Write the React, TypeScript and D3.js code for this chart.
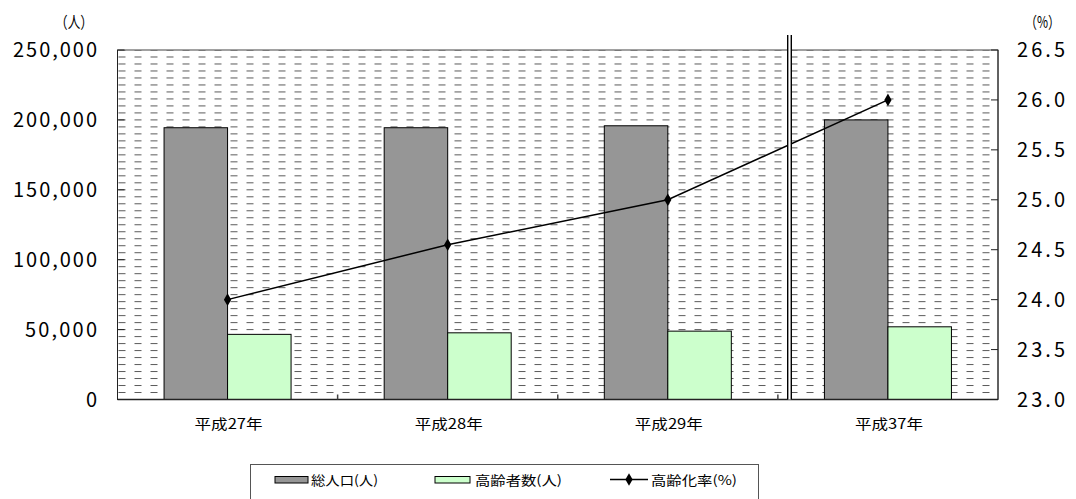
import React from "react";
import * as d3 from "d3";

// 年度
const categories = ["平成27年", "平成28年", "平成29年", "平成37年"];
// 総人口（人）
const totalPopulation = [194400, 194400, 195800, 200000];
// 高齢者数（人）
const elderlyPopulation = [46600, 47700, 48900, 52000];
// 高齢化率（%）
const agingRate = [24.0, 24.55, 25.0, 26.0];

const leftTicks = [0, 50000, 100000, 150000, 200000, 250000];
const rightTicks = [23.0, 23.5, 24.0, 24.5, 25.0, 25.5, 26.0, 26.5];

const legendItems = ["総人口(人)", "高齢者数(人)", "高齢化率(%)"];

const W = 1076;
const H = 499;
const plot = { left: 117.5, right: 998, top: 50, bottom: 399.5 };
const FONT = "'Noto Sans CJK JP', 'Noto Sans', sans-serif";

const fmt = (v: number) => (v === 0 ? "0" : d3.format(",")(v));

export default function App() {
  const x = d3
    .scaleBand<string>()
    .domain(categories)
    .range([plot.left, plot.right])
    .paddingInner(0)
    .paddingOuter(0);
  const yL = d3.scaleLinear().domain([0, 250000]).range([plot.bottom, plot.top]);
  const yR = d3.scaleLinear().domain([23, 26.5]).range([plot.bottom, plot.top]);

  const bw = x.bandwidth() * 0.2885;
  const cx = (c: string) => (x(c) as number) + x.bandwidth() / 2;

  const line = d3
    .line<number>()
    .x((_, i) => cx(categories[i]))
    .y((d) => yR(d));

  const diamond = d3.symbol().type(d3.symbolDiamond).size(46)();

  // the break between the actual years and the projection
  const breakX = 787.7;
  const rowH = (plot.bottom - plot.top) / 50;

  return (
    <svg
      width={W}
      height={H}
      style={{ position: "absolute", left: 0, top: 0, background: "#fff" }}
      fontFamily={FONT}
    >
      <defs>
        <pattern
          id="dashBg"
          patternUnits="userSpaceOnUse"
          x={plot.left + 1}
          y={plot.top - 0.5}
          width={16}
          height={rowH}
        >
          <rect x={0} y={0} width={7} height={1} fill="#5a5a5a" />
        </pattern>
      </defs>

      {/* plot area */}
      <rect
        x={plot.left}
        y={plot.top}
        width={plot.right - plot.left}
        height={plot.bottom - plot.top}
        fill="url(#dashBg)"
      />
      <rect
        x={plot.left}
        y={plot.top}
        width={plot.right - plot.left}
        height={plot.bottom - plot.top}
        fill="none"
        stroke="#444"
        strokeWidth={1}
      />

      {/* bars */}
      {categories.map((c, i) => (
        <g key={c}>
          <rect
            x={cx(c) - bw}
            y={yL(totalPopulation[i])}
            width={bw}
            height={plot.bottom - yL(totalPopulation[i])}
            fill="#969696"
            stroke="#000"
            strokeWidth={1}
          />
          <rect
            x={cx(c)}
            y={yL(elderlyPopulation[i])}
            width={bw}
            height={plot.bottom - yL(elderlyPopulation[i])}
            fill="#ccffcc"
            stroke="#000"
            strokeWidth={1}
          />
        </g>
      ))}

      {/* axes */}
      <line x1={plot.left} x2={plot.left} y1={plot.top} y2={plot.bottom} stroke="#222" />
      <line x1={plot.right} x2={plot.right} y1={plot.top} y2={plot.bottom} stroke="#222" />
      <line x1={plot.left} x2={plot.right} y1={plot.bottom} y2={plot.bottom} stroke="#222" strokeWidth={1.3} />
      {leftTicks.map((t) => (
        <line key={"lt" + t} x1={plot.left} x2={plot.left + 7} y1={yL(t)} y2={yL(t)} stroke="#222" />
      ))}
      {rightTicks.map((t) => (
        <line key={"rt" + t} x1={plot.right - 7} x2={plot.right} y1={yR(t)} y2={yR(t)} stroke="#222" />
      ))}
      {categories.slice(1).map((c) => (
        <line
          key={"xt" + c}
          x1={x(c) as number}
          x2={x(c) as number}
          y1={plot.bottom}
          y2={plot.bottom - 5}
          stroke="#444"
          strokeWidth={1.5}
        />
      ))}

      {/* aging rate line */}
      <path d={line(agingRate) || ""} fill="none" stroke="#000" strokeWidth={1.5} />
      {agingRate.map((v, i) => (
        <path
          key={"m" + i}
          d={diamond || ""}
          transform={`translate(${cx(categories[i])},${yR(v)})`}
          fill="#000"
        />
      ))}

      {/* double break line */}
      <rect x={breakX} y={35} width={3.6} height={plot.bottom - 35} fill="#fff" />
      <line x1={breakX} x2={breakX} y1={35} y2={plot.bottom} stroke="#000" strokeWidth={1.4} />
      <line x1={breakX + 3.6} x2={breakX + 3.6} y1={35} y2={plot.bottom} stroke="#000" strokeWidth={1.4} />

      {/* left tick labels */}
      {leftTicks.map((t) => {
        const s = fmt(t);
        return (
          <text
            key={"ll" + t}
            x={97}
            y={yL(t)}
            dy="0.36em"
            textAnchor="end"
            fontSize={20}
            textLength={s.length * 12}
            lengthAdjust="spacing"
            fill="#000"
          >
            {s}
          </text>
        );
      })}
      {/* right tick labels */}
      {rightTicks.map((t) => {
        const s = t.toFixed(1);
        return (
          <text
            key={"rl" + t}
            x={1017}
            y={yR(t)}
            dy="0.36em"
            fontSize={20}
            textLength={s.length * 12}
            lengthAdjust="spacing"
            fill="#000"
          >
            {s}
          </text>
        );
      })}

      {/* unit labels */}
      <text x={55} y={28} fontSize={16} textLength={38} lengthAdjust="spacingAndGlyphs">
        （人）
      </text>
      <text x={1025} y={28} fontSize={16} textLength={35} lengthAdjust="spacingAndGlyphs">
        （%）
      </text>

      {/* category labels */}
      {categories.map((c) => (
        <text
          key={"xl" + c}
          x={cx(c) + 1}
          y={429}
          textAnchor="middle"
          fontSize={14}
          textLength={68}
          lengthAdjust="spacingAndGlyphs"
        >
          {c}
        </text>
      ))}

      {/* legend */}
      <rect x={250.5} y={464.5} width={508} height={60} fill="#fff" stroke="#555" />
      <rect x={275} y={476.5} width={33} height={6.5} fill="#969696" stroke="#000" />
      <text x={311} y={485} fontSize={13} textLength={67} lengthAdjust="spacingAndGlyphs">
        {legendItems[0]}
      </text>
      <rect x={435} y={476.5} width={35} height={6.5} fill="#ccffcc" stroke="#000" />
      <text x={475} y={485} fontSize={13} textLength={87} lengthAdjust="spacingAndGlyphs">
        {legendItems[1]}
      </text>
      <line x1={610} x2={648} y1={479.5} y2={479.5} stroke="#000" strokeWidth={1.5} />
      <path d={diamond || ""} transform="translate(629,479.5)" fill="#000" />
      <text x={651} y={485} fontSize={13} textLength={86} lengthAdjust="spacingAndGlyphs">
        {legendItems[2]}
      </text>
    </svg>
  );
}
